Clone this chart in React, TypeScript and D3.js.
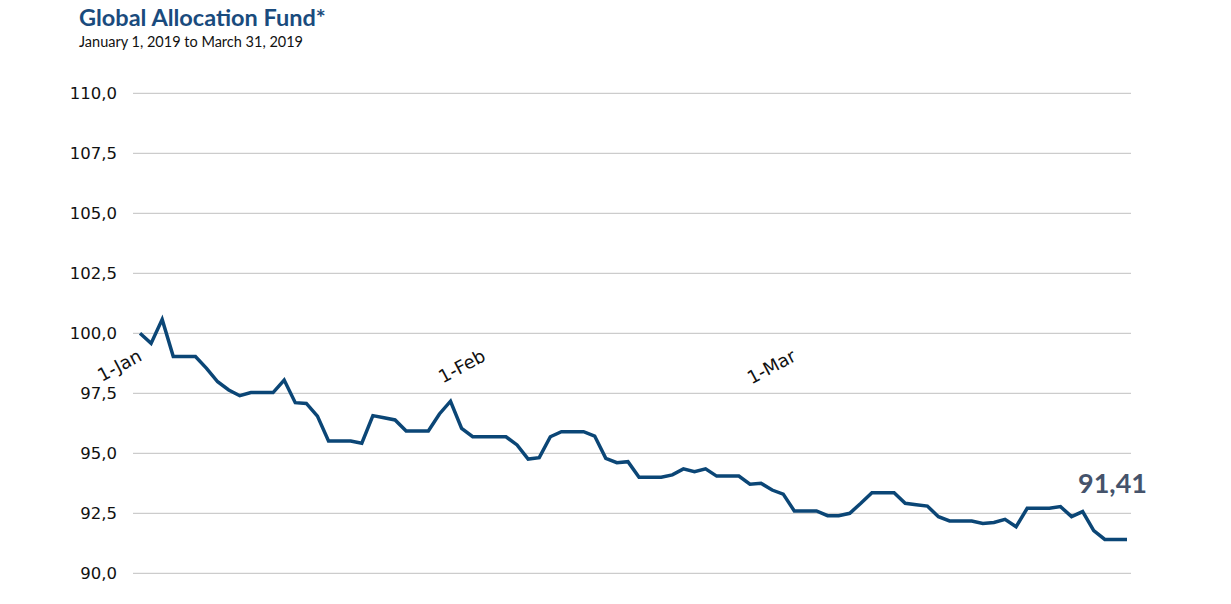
import React from "react";
import * as d3 from "d3";

const title = "Global Allocation Fund*";
const subtitle = "January 1, 2019 to March 31, 2019";
const startDate = new Date(2019, 0, 1);
const navValues = [
  100.0, 99.58, 100.58, 99.03, 99.03, 99.03, 98.54, 97.98, 97.64, 97.4,
  97.53, 97.53, 97.53, 98.05, 97.11, 97.08, 96.55, 95.51, 95.51, 95.51,
  95.42, 96.57, 96.48, 96.39, 95.93, 95.93, 95.93, 96.64, 97.17, 96.04,
  95.69, 95.69, 95.69, 95.69, 95.35, 94.76, 94.82, 95.69, 95.9, 95.9,
  95.9, 95.72, 94.79, 94.61, 94.65, 94.0, 94.0, 94.0, 94.1, 94.35,
  94.23, 94.35, 94.05, 94.05, 94.05, 93.71, 93.75, 93.47, 93.3, 92.6,
  92.6, 92.6, 92.4, 92.4, 92.5, 92.92, 93.36, 93.36, 93.36, 92.92,
  92.86, 92.8, 92.36, 92.18, 92.18, 92.18, 92.08, 92.12, 92.25, 91.94,
  92.71, 92.71, 92.71, 92.78, 92.36, 92.57, 91.78, 91.41, 91.41, 91.41,
];
const yTicks = [90, 92.5, 95, 97.5, 100, 102.5, 105, 107.5, 110];
const xTickDates = [new Date(2019, 0, 1), new Date(2019, 1, 1), new Date(2019, 2, 1)];
const xTickLabels = ["1-Jan", "1-Feb", "1-Mar"];
const lastLabel = "91,41";

const data = navValues.map((v, i) => ({
  date: d3.timeDay.offset(startDate, i),
  value: v,
}));

export default function App() {
  const W = 1231;
  const H = 604;
  const gridX0 = 133;
  const gridX1 = 1131;
  const x = d3
    .scaleTime()
    .domain([data[0].date, data[data.length - 1].date])
    .range([140, 1127]);
  const y = d3.scaleLinear().domain([90, 110]).range([573.3, 93.3]);
  const line = d3
    .line<{ date: Date; value: number }>()
    .x((d) => x(d.date))
    .y((d) => y(d.value));
  const fmt = (v: number) => v.toFixed(1).replace(".", ",");
  const last = data[data.length - 1];

  return (
    <svg
      width={W}
      height={H}
      style={{ position: "absolute", left: 0, top: 0, background: "#fff" }}
    >
      <text
        x={79}
        y={26}
        fontFamily="Lato, 'Open Sans', sans-serif"
        fontWeight="bold"
        fontSize={23.5}
        fill="#1a4b7d"
      >
        {title}
      </text>
      <text
        x={79}
        y={47}
        fontFamily="Lato, 'Open Sans', sans-serif"
        fontSize={14.5}
        fill="#111"
      >
        {subtitle}
      </text>
      {yTicks.map((t) => (
        <g key={t}>
          <line
            x1={gridX0}
            x2={gridX1}
            y1={y(t)}
            y2={y(t)}
            stroke="#c0c0c0"
            strokeWidth={1}
          />
          <text
            x={117}
            y={y(t)}
            dy="0.36em"
            textAnchor="end"
            fontFamily="'DejaVu Sans', Verdana, sans-serif"
            fontSize={16.5}
            fill="#111"
          >
            {fmt(t)}
          </text>
        </g>
      ))}
      {xTickDates.map((d, i) => (
        <text
          key={i}
          transform={`translate(${x(d) + 3},${360}) rotate(-28)`}
          textAnchor="end"
          fontFamily="'DejaVu Sans', Verdana, sans-serif"
          fontSize={18}
          fill="#111"
        >
          {xTickLabels[i]}
        </text>
      ))}
      <path
        d={line(data) || ""}
        fill="none"
        stroke="#0b4676"
        strokeWidth={3.5}
        strokeLinejoin="miter"
      />
      <text
        x={x(last.date) + 20}
        y={493}
        textAnchor="end"
        fontFamily="Lato, 'Open Sans', sans-serif"
        fontWeight="bold"
        fontSize={27}
        fill="#45536b"
      >
        {lastLabel}
      </text>
    </svg>
  );
}
